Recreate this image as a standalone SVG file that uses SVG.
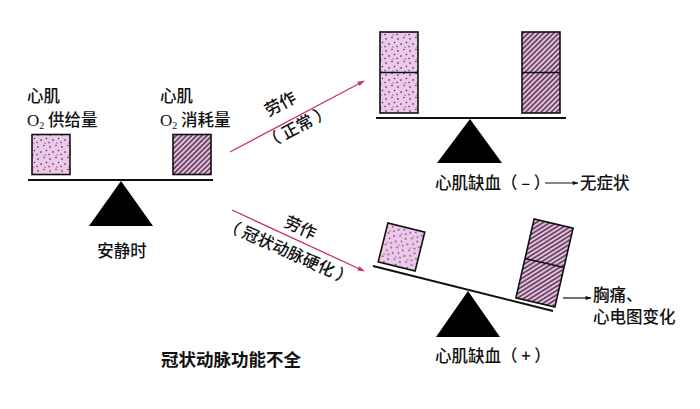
<svg xmlns="http://www.w3.org/2000/svg" width="700" height="409" viewBox="0 0 700 409">
<defs>
<style>
.t{font-family:"Noto Sans CJK SC","Liberation Sans",sans-serif;font-size:16.5px;font-weight:500;fill:#111}
.b{font-weight:bold;font-size:17.5px}
.o{font-family:"Liberation Serif","Noto Sans CJK SC",serif}
.box{stroke:#111;stroke-width:1.6}
.beam{stroke:#111;stroke-width:2;fill:none}
.ful{fill:#000}
.pk{stroke:#c8306e;stroke-width:1.3;fill:none}
.bk{stroke:#111;stroke-width:1.2;fill:none}
</style>
<pattern id="dots" width="12" height="12" patternUnits="userSpaceOnUse">
<rect width="12" height="12" fill="#eec8ea"/>
<circle cx="2" cy="3" r="0.8" fill="#222"/>
<circle cx="8" cy="1.5" r="0.7" fill="#222"/>
<circle cx="5" cy="8" r="0.8" fill="#222"/>
<circle cx="10.5" cy="6.5" r="0.7" fill="#222"/>
<circle cx="1" cy="10.5" r="0.7" fill="#222"/>
<circle cx="9" cy="11" r="0.6" fill="#222"/>
</pattern>
<pattern id="hatch" width="3.6" height="3.6" patternUnits="userSpaceOnUse" patternTransform="rotate(45)">
<rect width="3.6" height="3.6" fill="#e6c0e0"/>
<line x1="1" y1="0" x2="1" y2="3.6" stroke="#3a1c36" stroke-width="1.3"/>
</pattern>
<marker id="ap" viewBox="0 0 10 10" refX="9" refY="5" markerWidth="9" markerHeight="7" orient="auto" markerUnits="userSpaceOnUse">
<path d="M0,1.5 L10,5 L0,8.5 Z" fill="#c8306e"/>
</marker>
<marker id="ab" viewBox="0 0 10 10" refX="9" refY="5" markerWidth="9" markerHeight="6" orient="auto" markerUnits="userSpaceOnUse">
<path d="M0,1.5 L10,5 L0,8.5 Z" fill="#111"/>
</marker>
</defs>
<rect width="700" height="409" fill="#fff"/>

<g id="rest">
<text class="t" x="27" y="102">心肌</text>
<text class="t" x="27" y="126"><tspan class="o" font-size="17" font-weight="normal">O</tspan><tspan class="o" font-size="10" font-weight="normal" dy="3">2</tspan><tspan dy="-3"> 供给量</tspan></text>
<text class="t" x="160" y="102">心肌</text>
<text class="t" x="160" y="126"><tspan class="o" font-size="17" font-weight="normal">O</tspan><tspan class="o" font-size="10" font-weight="normal" dy="3">2</tspan><tspan dy="-3"> 消耗量</tspan></text>
<rect class="box" x="32" y="134.5" width="38" height="40" fill="url(#dots)"/>
<rect class="box" x="173" y="134.5" width="38" height="40" fill="url(#hatch)"/>
<line class="beam" x1="28" y1="180" x2="213" y2="180"/>
<path class="ful" d="M121,181 L153,226 L89,226 Z"/>
<text class="t" x="122" y="257" text-anchor="middle">安静时</text>
</g>

<g id="normal">
<rect class="box" x="380" y="32" width="38" height="81" fill="url(#dots)"/>
<line class="box" x1="380" y1="72.5" x2="418" y2="72.5"/>
<rect class="box" x="522" y="32" width="38" height="81" fill="url(#hatch)"/>
<line class="box" x1="522" y1="72.5" x2="560" y2="72.5"/>
<line class="beam" x1="376" y1="118" x2="566" y2="118"/>
<path class="ful" d="M470,119 L502,163 L437,163 Z"/>
<text class="t" x="435" y="189">心肌缺血（ – ）</text>
<text class="t" x="580" y="189">无症状</text>
</g>

<g id="disease">
<g transform="translate(401.5,247) rotate(14)">
<rect class="box" x="-19" y="-20" width="38" height="40" fill="url(#dots)"/>
</g>
<g transform="translate(544.5,263) rotate(13)">
<rect class="box" x="-20" y="-40.5" width="40" height="81" fill="url(#hatch)"/>
<line class="box" x1="-20" y1="0" x2="20" y2="0"/>
</g>
<line class="beam" x1="373" y1="266" x2="553" y2="311"/>
<path class="ful" d="M468,291 L500,337 L436,337 Z"/>
<text class="t" x="435" y="362">心肌缺血（ + ）</text>
<text class="t" x="593" y="301">胸痛、</text>
<text class="t" x="593" y="323">心电图变化</text>
</g>

<g id="title">
<text class="t b" x="161" y="366">冠状动脉功能不全</text>
</g>

<g id="labels">
<text class="t" text-anchor="middle" transform="translate(283,109) rotate(-28)">劳作</text>
<text class="t" text-anchor="middle" transform="translate(300,132) rotate(-28)">（ 正常 ）</text>
<text class="t" text-anchor="middle" transform="translate(298,233) rotate(24)">劳作</text>
<text class="t" text-anchor="middle" transform="translate(286,257) rotate(24)">（ 冠状动脉硬化 ）</text>
</g>

<g id="connectors">
<line class="pk" x1="230" y1="152" x2="364" y2="81" marker-end="url(#ap)"/>
<line class="pk" x1="232" y1="210" x2="364" y2="271" marker-end="url(#ap)"/>
<line class="bk" x1="545" y1="183" x2="578" y2="183" marker-end="url(#ab)"/>
<line class="bk" x1="563" y1="298" x2="591" y2="298" marker-end="url(#ab)"/>
</g>
</svg>
